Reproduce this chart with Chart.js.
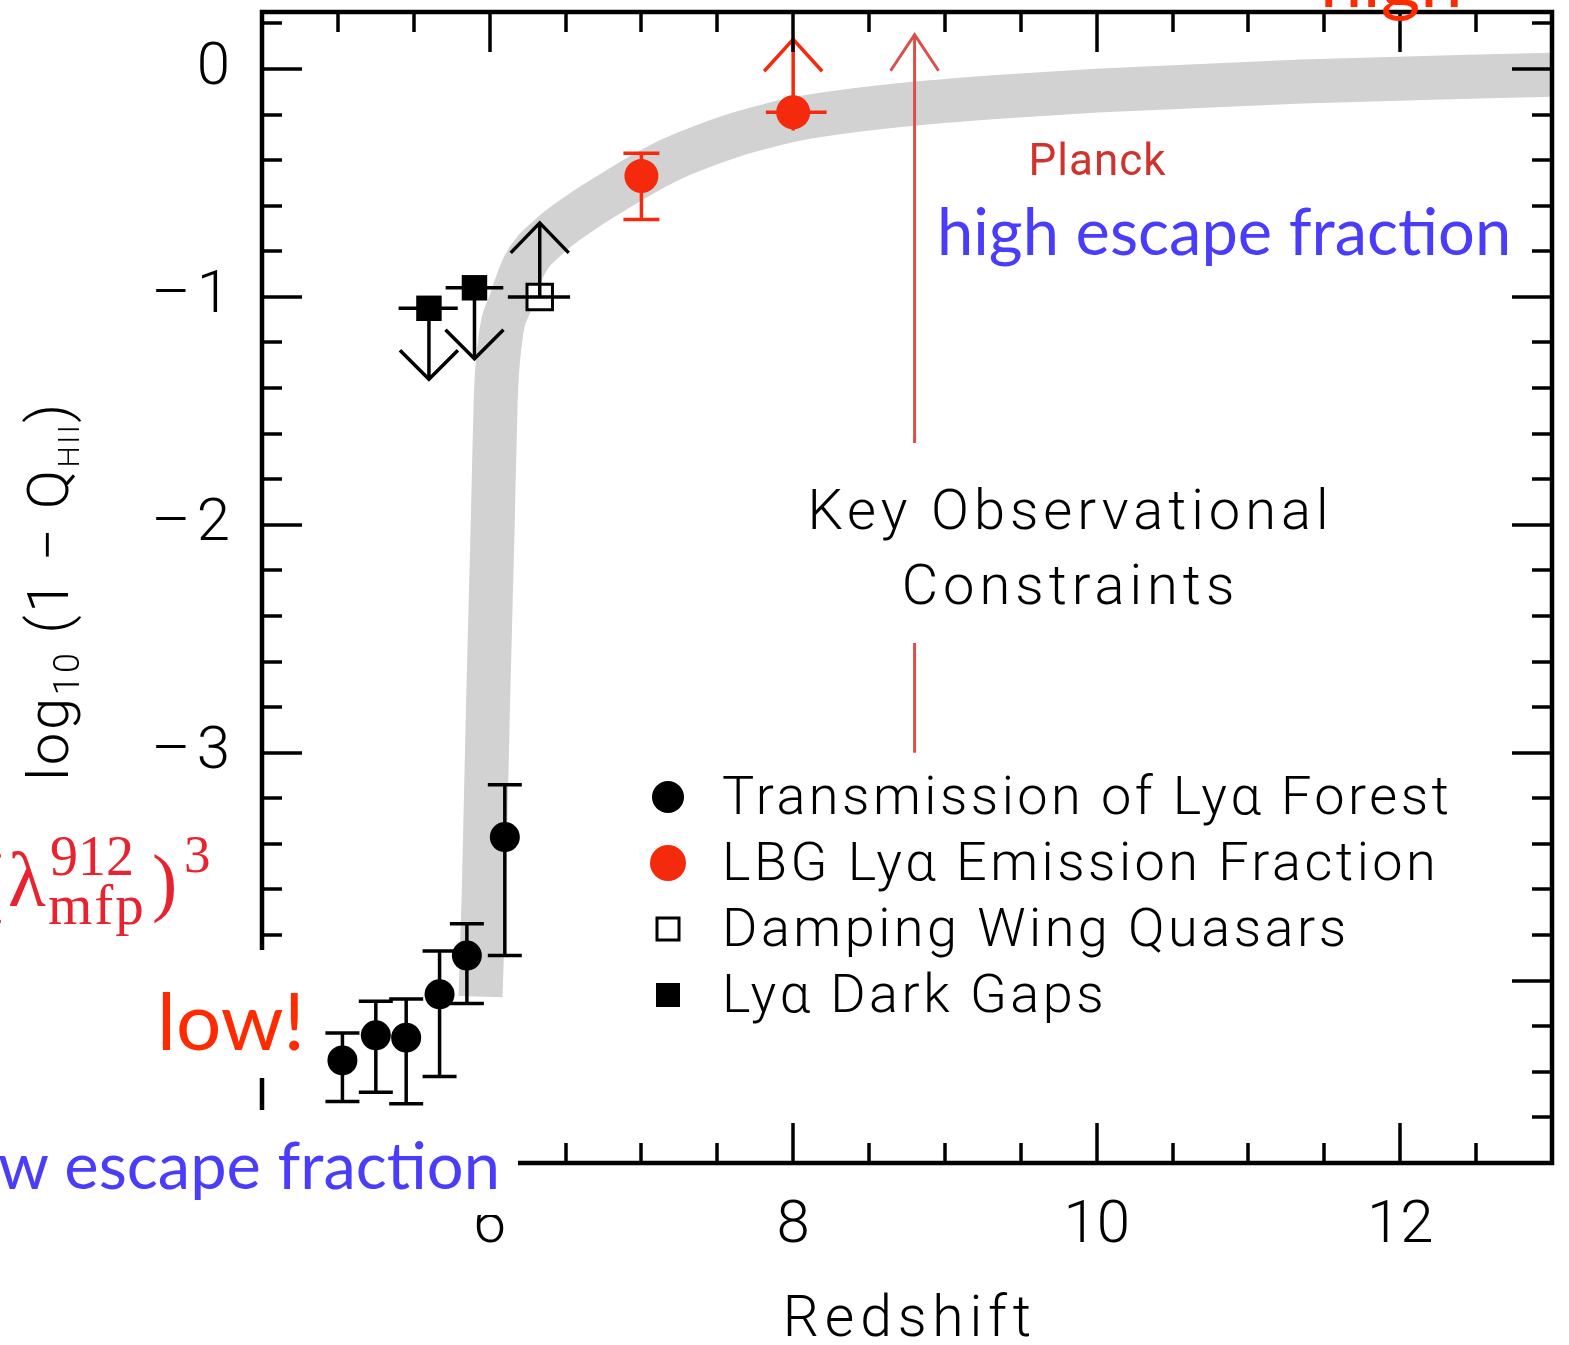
<!DOCTYPE html>
<html>
<head>
<meta charset="utf-8">
<script src="https://cdn.jsdelivr.net/npm/chart.js@4.4.1/dist/chart.umd.min.js"></script>
<style>
  html, body { margin: 0; padding: 0; background: #fff; }
  #wrap { position: relative; width: 1569px; height: 1345px; overflow: hidden; }
  #reion { position: absolute; left: 0; top: 0; }
  .box { position: absolute; background: #fff; }
  .note { position: absolute; white-space: nowrap; line-height: 1; font-family: 'Lato', 'Open Sans', sans-serif; }
  .blue { color: #4a3cfb; font-size: 65px; }
  .red { color: #ff2a00; font-size: 80px; }
  .tex { position: absolute; white-space: nowrap; line-height: 1; color: #e8222e; font-family: 'Liberation Serif', 'DejaVu Serif', serif; }
</style>
</head>
<body>
<div id="wrap">
  <canvas id="reion" width="1569" height="1345"></canvas>

  <!-- slide annotations pasted over the figure -->
  <div class="box" style="left:143px; top:950px; width:170px; height:128px;"></div>
  <div class="box" style="left:0; top:1110px; width:518px; height:105px;"></div>
  <div class="note red" style="left:1320px; top:-60px; font-size:76px;">high</div>
  <div class="note red" style="left:157px; top:979px;">low!</div>
  <div class="note blue" style="left:937px; top:198px;">high escape fraction</div>
  <div class="note blue" style="right:1069px; top:1132px;">low escape fraction</div>

  <span class="tex" style="left:-22px; top:843px; font-size:76px;">(</span>
  <span class="tex" style="left:8px; top:841px; font-size:78px;">λ</span>
  <span class="tex" style="left:50px; top:828px; font-size:56px;">912</span>
  <span class="tex" style="left:48px; top:876px; font-size:57px; letter-spacing:2px;">mfp</span>
  <span class="tex" style="left:152px; top:843px; font-size:76px;">)</span>
  <span class="tex" style="left:184px; top:828px; font-size:53px;">3</span>
</div>

<script>
// axis ranges and tick labels
const X_MIN = 4.5, X_MAX = 13;
const Y_MIN = -4.8, Y_MAX = 0.25;
const xTicks = [6, 8, 10, 12];
const yTicks = [-4, -3, -2, -1, 0];
const xMinorStep = 0.5;
const yMinorStep = 0.2;

// Transmission of the Lya forest (with 1-sigma bars)
const forestZ    = [5.03, 5.25, 5.45, 5.67, 5.85, 6.10];
const forestLogQ = [-4.35, -4.24, -4.25, -4.06, -3.89, -3.37];
const forestHi   = [-4.23, -4.09, -4.08, -3.87, -3.75, -3.14];
const forestLo   = [-4.53, -4.49, -4.54, -4.42, -4.10, -3.89];

// LBG Lya emission fraction; z=8 is a lower limit
const lbgZ     = [7.0, 8.0];
const lbgLogQ  = [-0.47, -0.19];
const lbgHi    = [-0.37, null];
const lbgLo    = [-0.66, -0.27];
const lbgZLo   = [null, 7.82];
const lbgZHi   = [null, 8.22];
const lbgLimit = [0, 1];

// Damping wing quasars (lower limit)
const dampZ    = [6.33];
const dampLogQ = [-1.0];
const dampZLo  = [6.12];
const dampZHi  = [6.53];

// Lya dark gaps (upper limits)
const gapZ    = [5.60, 5.90];
const gapLogQ = [-1.05, -0.96];
const gapZLo  = [5.40, 5.71];
const gapZHi  = [5.79, 6.09];

// reionization history model band
const bandZ    = [5.94, 5.96, 5.99, 6.02, 6.04, 6.07, 6.14, 6.23, 6.40, 6.60, 6.80, 7.0, 7.2, 7.4, 7.6, 7.8, 8.0, 8.3, 8.8, 9.4, 10.0, 11.35, 13.0];
const bandLogQ = [-4.07, -3.64, -2.77, -2.0, -1.45, -1.19, -1.02, -0.86, -0.73, -0.63, -0.545, -0.465, -0.395, -0.34, -0.293, -0.255, -0.222, -0.19, -0.152, -0.12, -0.095, -0.055, -0.025];

// Planck constraint marker
const planckZ = 8.8;
const planckFrom = -3.0;
const planckTo = 0.15;

const FONT = 'Roboto';
const RED = '#f52a0c';
const PLANCK_RED = '#d9504b';

const pts = (xs, ys) => xs.map((x, i) => ({ x: x, y: ys[i] }));

function line(ctx, x1, y1, x2, y2) {
    ctx.beginPath();
    ctx.moveTo(x1, y1);
    ctx.lineTo(x2, y2);
    ctx.stroke();
}

// vertical arrow from y0 to the tip at y1
function arrow(ctx, x, y0, y1, headW, headL) {
    const dir = y1 < y0 ? 1 : -1;
    line(ctx, x, y0, x, y1);
    ctx.beginPath();
    ctx.moveTo(x - headW, y1 + dir * headL);
    ctx.lineTo(x, y1);
    ctx.lineTo(x + headW, y1 + dir * headL);
    ctx.stroke();
}

// text with extra tracking, the plot font is set wide
function spaced(ctx, text, x, y, track) {
    ctx.letterSpacing = track + 'px';
    const w = ctx.measureText(text).width - track;
    const align = ctx.textAlign;
    ctx.textAlign = 'left';
    let x0 = x;
    if (align === 'center') x0 = x - w / 2;
    if (align === 'right') x0 = x - w;
    ctx.fillText(text, x0, y);
    ctx.textAlign = align;
    ctx.letterSpacing = '0px';
    return w;
}

const figure = {
    id: 'figure',
    afterDatasetsDraw(chart) {
        const ctx = chart.ctx;
        const sx = chart.scales.x, sy = chart.scales.y;
        const X = v => sx.getPixelForValue(v);
        const Y = v => sy.getPixelForValue(v);
        ctx.save();
        ctx.lineCap = 'butt';

        // Lya forest error bars
        ctx.strokeStyle = '#000';
        ctx.lineWidth = 3.5;
        forestZ.forEach((z, i) => {
            const x = X(z);
            line(ctx, x, Y(forestHi[i]), x, Y(forestLo[i]));
            line(ctx, x - 17, Y(forestHi[i]), x + 17, Y(forestHi[i]));
            line(ctx, x - 17, Y(forestLo[i]), x + 17, Y(forestLo[i]));
        });

        // dark gaps: z range and downward arrows
        gapZ.forEach((z, i) => {
            const x = X(z), y = Y(gapLogQ[i]);
            line(ctx, X(gapZLo[i]), y, X(gapZHi[i]), y);
            arrow(ctx, x, y, y + 71, 29, 29);
        });

        // damping wing: z range and upward arrow
        dampZ.forEach((z, i) => {
            const x = X(z), y = Y(dampLogQ[i]);
            line(ctx, X(dampZLo[i]), y, X(dampZHi[i]), y);
            arrow(ctx, x, y, y - 74, 29, 30);
        });

        // LBG points
        ctx.strokeStyle = RED;
        lbgZ.forEach((z, i) => {
            const x = X(z), y = Y(lbgLogQ[i]);
            if (lbgHi[i] !== null) {
                line(ctx, x, Y(lbgHi[i]), x, y);
                line(ctx, x - 18, Y(lbgHi[i]), x + 18, Y(lbgHi[i]));
            }
            if (lbgLo[i] !== null) {
                line(ctx, x, y, x, Y(lbgLo[i]));
                if (!lbgLimit[i]) line(ctx, x - 18, Y(lbgLo[i]), x + 18, Y(lbgLo[i]));
            }
            if (lbgZLo[i] !== null) line(ctx, X(lbgZLo[i]), y, X(lbgZHi[i]), y);
            if (lbgLimit[i]) arrow(ctx, x, y, y - 73, 29, 32);
        });

        // Planck arrow
        ctx.strokeStyle = PLANCK_RED;
        ctx.lineWidth = 3;
        arrow(ctx, X(planckZ), Y(planckFrom), Y(planckTo), 24, 36);
        ctx.restore();
    },
    afterDraw(chart) {
        const ctx = chart.ctx;
        const a = chart.chartArea;
        const sx = chart.scales.x, sy = chart.scales.y;
        ctx.save();

        // frame with inward ticks on all four sides
        ctx.strokeStyle = '#000';
        ctx.lineWidth = 3.5;
        for (let v = X_MIN + xMinorStep; v < X_MAX - 1e-6; v += xMinorStep) {
            const len = xTicks.some(t => Math.abs(t - v) < 1e-6) ? 40 : 20;
            const px = Math.round(sx.getPixelForValue(v));
            line(ctx, px, a.bottom, px, a.bottom - len);
            line(ctx, px, a.top, px, a.top + len);
        }
        for (let v = Y_MIN + yMinorStep; v < Y_MAX - 1e-6; v += yMinorStep) {
            const len = yTicks.some(t => Math.abs(t - v) < 1e-6) ? 40 : 20;
            const py = Math.round(sy.getPixelForValue(v));
            line(ctx, a.left, py, a.left + len, py);
            line(ctx, a.right, py, a.right - len, py);
        }
        ctx.lineWidth = 4.5;
        ctx.strokeRect(a.left, a.top, a.right - a.left, a.bottom - a.top);

        // Planck label
        ctx.fillStyle = '#d0332d';
        ctx.font = '400 44px ' + FONT;
        ctx.textAlign = 'center';
        ctx.textBaseline = 'middle';
        spaced(ctx, 'Planck', 1097, 164, 1);

        // key heading on a white panel over the arrow
        ctx.fillStyle = '#fff';
        ctx.fillRect(790, 443, 560, 200);
        ctx.fillStyle = '#000';
        ctx.font = '300 56px ' + FONT;
        spaced(ctx, 'Key Observational', 1068, 515, 5);
        spaced(ctx, 'Constraints', 1068, 590, 5);

        // legend
        const rows = [800, 866, 932, 998];
        const mx = 668;
        chart.data.datasets.slice(0, 4).forEach((ds, i) => {
            const y = rows[i] - 3;
            ctx.fillStyle = ds.pointBackgroundColor;
            ctx.strokeStyle = '#000';
            if (ds.pointStyle === 'rect') {
                if (ds.pointBorderWidth) {
                    ctx.lineWidth = 3;
                    ctx.strokeRect(mx - 11, y - 11, 22, 22);
                } else {
                    ctx.fillRect(mx - 12, y - 12, 24, 24);
                }
            } else {
                ctx.beginPath();
                ctx.arc(mx, y, i === 1 ? 18 : 16, 0, Math.PI * 2);
                ctx.fill();
            }
            ctx.fillStyle = '#000';
            ctx.textAlign = 'left';
            ctx.font = '300 54px ' + FONT;
            spaced(ctx, ds.label, 722, rows[i], 3.5);
        });

        // y axis title, rotated, with subscripts
        const parts = [['log', 58, 0], ['10', 36, 11], [' (1 \u2212 Q', 58, 0], ['HII', 30, 11], [')', 58, 0]];
        const track = 2.5;
        ctx.translate(68, 591);
        ctx.rotate(-Math.PI / 2);
        ctx.textBaseline = 'alphabetic';
        ctx.letterSpacing = track + 'px';
        let total = 0;
        parts.forEach(p => { ctx.font = '300 ' + p[1] + 'px ' + FONT; total += ctx.measureText(p[0]).width; });
        let cx = -total / 2;
        parts.forEach(p => {
            ctx.font = '300 ' + p[1] + 'px ' + FONT;
            ctx.fillText(p[0], cx, p[2]);
            cx += ctx.measureText(p[0]).width;
        });
        ctx.restore();
    }
};

new Chart(document.getElementById('reion'), {
    type: 'scatter',
    data: {
        datasets: [
            {
                label: 'Transmission of Ly\u03b1 Forest',
                data: pts(forestZ, forestLogQ),
                pointRadius: 15,
                pointBackgroundColor: '#000',
                pointBorderWidth: 0,
                order: 1
            },
            {
                label: 'LBG Ly\u03b1 Emission Fraction',
                data: pts(lbgZ, lbgLogQ),
                pointRadius: 17,
                pointBackgroundColor: RED,
                pointBorderWidth: 0,
                order: 1
            },
            {
                label: 'Damping Wing Quasars',
                data: pts(dampZ, dampLogQ),
                pointStyle: 'rect',
                pointRadius: 18,
                pointBackgroundColor: '#fff',
                pointBorderColor: '#000',
                pointBorderWidth: 3,
                order: 1
            },
            {
                label: 'Ly\u03b1 Dark Gaps',
                data: pts(gapZ, gapLogQ),
                pointStyle: 'rect',
                pointRadius: 18,
                pointBackgroundColor: '#000',
                pointBorderWidth: 0,
                order: 1
            },
            {
                label: 'model',
                data: pts(bandZ, bandLogQ),
                showLine: true,
                borderColor: '#d2d2d2',
                borderWidth: 44,
                borderCapStyle: 'butt',
                borderJoinStyle: 'round',
                cubicInterpolationMode: 'monotone',
                pointRadius: 0,
                order: 10
            }
        ]
    },
    options: {
        responsive: false,
        animation: false,
        devicePixelRatio: 1,
        layout: { autoPadding: false, padding: { top: 12, right: 17, left: 0, bottom: 0 } },
        plugins: { legend: { display: false }, tooltip: { enabled: false } },
        scales: {
            x: {
                type: 'linear',
                min: X_MIN,
                max: X_MAX,
                afterBuildTicks: s => { s.ticks = xTicks.map(v => ({ value: v })); },
                afterFit: s => { s.height = 182; s.paddingLeft = 0; s.paddingRight = 0; },
                grid: { display: false },
                border: { display: false },
                ticks: {
                    color: '#000',
                    padding: 20,
                    maxRotation: 0,
                    autoSkip: false,
                    font: { family: FONT, size: 60, weight: 300 }
                },
                title: {
                    display: true,
                    text: 'R e d s h i f t'.replace(/ /g, '\u200a'),
                    color: '#000',
                    padding: { top: 0, bottom: -11 },
                    font: { family: FONT, size: 57, weight: 300 }
                }
            },
            y: {
                type: 'linear',
                min: Y_MIN,
                max: Y_MAX,
                afterBuildTicks: s => { s.ticks = yTicks.map(v => ({ value: v })); },
                afterFit: s => { s.width = 262; s.paddingTop = 0; s.paddingBottom = 0; },
                grid: { display: false },
                border: { display: false },
                ticks: {
                    color: '#000',
                    padding: 24,
                    autoSkip: false,
                    font: { family: FONT, size: 60, weight: 300 },
                    callback: v => (v < 0 ? '\u2013\u200a' + Math.abs(v) : String(v))
                }
            }
        }
    },
    plugins: [figure]
});
</script>
</body>
</html>
